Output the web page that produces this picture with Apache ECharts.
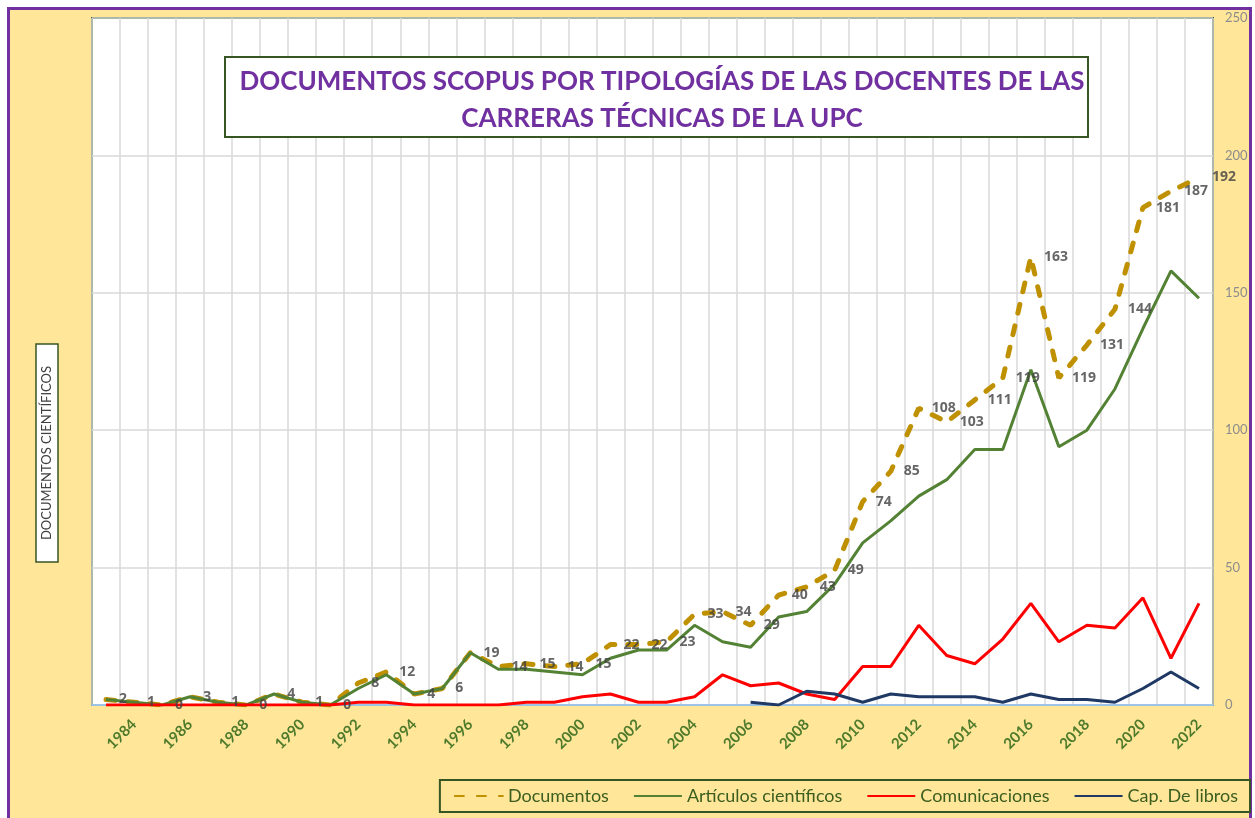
<!DOCTYPE html>
<html>
<head>
<meta charset="utf-8">
<script src="https://cdn.jsdelivr.net/npm/echarts@6/dist/echarts.min.js"></script>
<style>
  html, body { margin: 0; padding: 0; background: #fff; }
  #main { width: 1255px; height: 818px; }
</style>
</head>
<body>
<div id="main"></div>
<script>
const years = ['1983', '1984', '1985', '1986', '1987', '1988', '1989', '1990', '1991', '1992',
  '1993', '1994', '1995', '1996', '1997', '1998', '1999', '2000', '2001', '2002',
  '2003', '2004', '2005', '2006', '2007', '2008', '2009', '2010', '2011', '2012',
  '2013', '2014', '2015', '2016', '2017', '2018', '2019', '2020', '2021', '2022']

const documentos = [2, 1, 0, 3, 1, 0, 4, 1, 0, 8, 12, 4, 6, 19, 14, 15, 14, 15, 22, 22,
  23, 33, 34, 29, 40, 43, 49, 74, 85, 108, 103, 111, 119, 163, 119, 131, 144, 181, 187, 192]

const articulos = [2, 1, 0, 3, 1, 0, 4, 1, 0, 6, 11, 4, 6, 19, 13, 13, 12, 11, 17, 20,
  20, 29, 23, 21, 32, 34, 44, 59, 67, 76, 82, 93, 93, 122, 94, 100, 115, 137, 158, 148]

const comunicaciones = [0, 0, 0, 0, 0, 0, 0, 0, 0, 1, 1, 0, 0, 0, 0, 1, 1, 3, 4, 1,
  1, 3, 11, 7, 8, 4, 2, 14, 14, 29, 18, 15, 24, 37, 23, 29, 28, 39, 17, 37]

const libros = [null, null, null, null, null, null, null, null, null, null,
  null, null, null, null, null, null, null, null, null, null,
  null, null, null, 1, 0, 5, 4, 1, 4, 3, 3, 3, 1, 4, 2, 2, 1, 6, 12, 6]

const yTicks = [0, 50, 100, 150, 200, 250]

const chart = echarts.init(document.getElementById('main'))

const option = {
  animation: false,
  title: {
    text: 'DOCUMENTOS SCOPUS POR TIPOLOGÍAS DE LAS DOCENTES DE LAS\nCARRERAS TÉCNICAS DE LA UPC',
    left: 657,
    top: 58,
    textAlign: 'center',
    z: 20,
    textStyle: {
      color: '#7030A0',
      fontFamily: 'Lato',
      fontWeight: 'bold',
      fontSize: 26,
      lineHeight: 37
    }
  },
  graphic: [
    {
      type: 'rect',
      z: -10,
      shape: { x: 8.5, y: 8.5, width: 1242, height: 830 },
      style: { fill: '#FFE699', stroke: '#7030A0', lineWidth: 3 }
    },
    {
      type: 'rect',
      z: 10,
      shape: { x: 225, y: 57, width: 863, height: 80 },
      style: { fill: '#fff', stroke: '#375623', lineWidth: 2 }
    },
    {
      type: 'rect',
      z: 10,
      shape: { x: 36, y: 344, width: 22, height: 218 },
      style: { fill: '#fff', stroke: '#375623', lineWidth: 1.5 }
    },
    {
      type: 'text',
      z: 11,
      x: 47,
      y: 453,
      rotation: Math.PI / 2,
      style: {
        text: 'DOCUMENTOS CIENTÍFICOS',
        fill: '#404040',
        font: '13px Lato',
        align: 'center',
        verticalAlign: 'middle'
      }
    }
  ],
  legend: {
    data: ['Documentos', 'Artículos científicos', 'Comunicaciones', 'Cap. De libros'],
    right: 5,
    bottom: 6,
    padding: [7, 12, 7, 14],
    borderColor: '#375623',
    borderWidth: 2,
    itemWidth: 48,
    itemHeight: 14,
    itemGap: 24,
    itemStyle: { opacity: 0 },
    textStyle: {
      color: '#3B5E1F',
      fontFamily: 'Lato',
      fontSize: 18
    }
  },
  grid: {
    left: 92,
    right: 42,
    top: 18,
    bottom: 113,
    show: true,
    backgroundColor: '#fff',
    borderColor: '#375623',
    borderWidth: 2
  },
  xAxis: {
    type: 'category',
    data: years,
    boundaryGap: true,
    axisLine: { show: true, lineStyle: { color: '#9DC3E6', width: 2 } },
    axisTick: { show: false },
    splitLine: { show: true, interval: 0, lineStyle: { color: '#d9d9d9', width: 1.5 } },
    axisLabel: {
      interval: function (idx) { return idx % 2 === 1 },
      rotate: 45,
      margin: 17,
      color: '#4E7A2B',
      fontFamily: 'Lato',
      fontWeight: 'bold',
      fontSize: 15
    }
  },
  yAxis: {
    type: 'value',
    position: 'right',
    min: yTicks[0],
    max: yTicks[yTicks.length - 1],
    interval: 50,
    axisLine: { show: false },
    axisTick: { show: false },
    splitLine: { lineStyle: { color: '#d9d9d9', width: 1.5 } },
    axisLabel: {
      margin: 12,
      color: '#8c8c8c',
      fontFamily: 'Lato',
      fontSize: 13
    }
  },
  series: [
    {
      name: 'Documentos',
      type: 'line',
      symbol: 'none',
      data: documentos,
      z: 2,
      lineStyle: { color: '#BF9000', width: 5, type: [9, 13], cap: 'round' },
      itemStyle: { color: '#BF9000' }
    },
    {
      name: 'Artículos científicos',
      type: 'line',
      symbol: 'none',
      data: articulos,
      z: 3,
      lineStyle: { color: '#548235', width: 3 },
      itemStyle: { color: '#548235' }
    },
    {
      name: 'Comunicaciones',
      type: 'line',
      symbol: 'none',
      data: comunicaciones,
      z: 3,
      lineStyle: { color: '#FF0000', width: 3 },
      itemStyle: { color: '#FF0000' }
    },
    {
      name: 'Cap. De libros',
      type: 'line',
      symbol: 'none',
      data: libros,
      z: 3,
      lineStyle: { color: '#1F3864', width: 3 },
      itemStyle: { color: '#1F3864' }
    },
    {
      // etiquetas de Documentos
      name: 'etiquetas',
      type: 'scatter',
      data: documentos,
      symbolSize: 0.1,
      z: 5,
      itemStyle: { color: 'rgba(0,0,0,0)' },
      label: {
        show: true,
        position: 'right',
        distance: 13,
        color: '#404040',
        fontFamily: 'Open Sans',
        fontWeight: 'bold',
        fontSize: 14
      }
    }
  ]
}

chart.setOption(option)
</script>
</body>
</html>
